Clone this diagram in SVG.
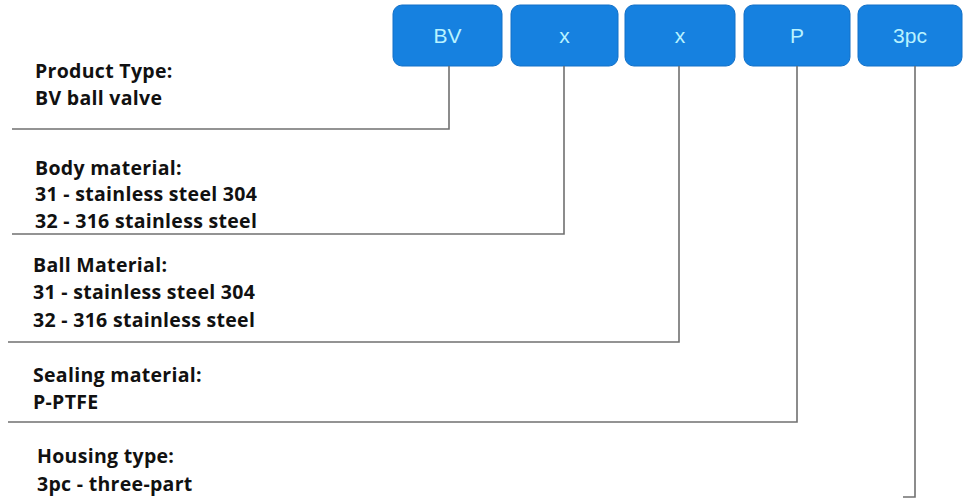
<svg xmlns="http://www.w3.org/2000/svg" width="970" height="499" viewBox="0 0 970 499">
<style>
.box{fill:#1681e0;stroke:#1270c8;stroke-width:1}
.bt{font-family:"Liberation Sans",Arial,sans-serif;font-size:21px;fill:#b8f2ff;text-anchor:middle}
.lbl{font-family:"Open Sans","Liberation Sans",sans-serif;font-size:19.5px;font-weight:bold;letter-spacing:0.3px;fill:#111}
.conn{fill:none;stroke:#707070;stroke-width:1.6}
</style>
<rect width="970" height="499" fill="#ffffff"/>
<g id="node-bv"><rect class="box" x="393" y="5" width="109" height="61" rx="9"/><text class="bt" x="447.5" y="43">BV</text></g>
<g id="node-x1"><rect class="box" x="511" y="5" width="107" height="61" rx="9"/><text class="bt" x="564.5" y="43">x</text></g>
<g id="node-x2"><rect class="box" x="625" y="5" width="110" height="61" rx="9"/><text class="bt" x="680" y="43">x</text></g>
<g id="node-p"><rect class="box" x="744" y="5" width="106" height="61" rx="9"/><text class="bt" x="797" y="43">P</text></g>
<g id="node-3pc"><rect class="box" x="858" y="5" width="104" height="61" rx="9"/><text class="bt" x="910" y="43">3pc</text></g>
<g id="node-product"><text class="lbl" x="35" y="78">Product Type:</text><text class="lbl" x="35" y="105">BV ball valve</text></g>
<g id="node-body"><text class="lbl" x="35" y="175">Body material:</text><text class="lbl" x="35" y="201">31 - stainless steel 304</text><text class="lbl" x="35" y="228">32 - 316 stainless steel</text></g>
<g id="node-ball"><text class="lbl" x="33" y="272">Ball Material:</text><text class="lbl" x="33" y="299">31 - stainless steel 304</text><text class="lbl" x="33" y="327">32 - 316 stainless steel</text></g>
<g id="node-sealing"><text class="lbl" x="33" y="382">Sealing material:</text><text class="lbl" x="33" y="409">P-PTFE</text></g>
<g id="node-housing"><text class="lbl" x="37" y="463">Housing type:</text><text class="lbl" x="37" y="491">3pc - three-part</text></g>
<g id="connectors">
<polyline class="conn" points="449,66 449,129 12,129"/>
<polyline class="conn" points="564,66 564,234 12,234"/>
<polyline class="conn" points="679,66 679,342 8,342"/>
<polyline class="conn" points="797,66 797,422 8,422"/>
<polyline class="conn" points="915,66 915,497 903,497"/>
</g>
</svg>
